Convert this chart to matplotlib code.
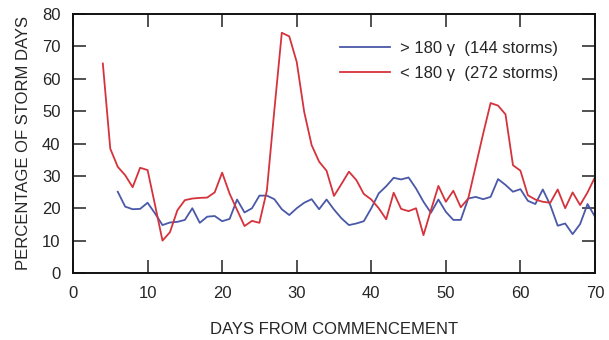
import matplotlib
matplotlib.use("Agg")
import matplotlib.pyplot as plt

plt.rcParams['font.family'] = ['Liberation Sans', 'DejaVu Sans']

# Percentage of storm days by days from commencement
days_strong = list(range(6, 71))
pct_strong = [25.1, 20.5, 19.7, 19.8, 21.7, 18.4, 14.8, 15.6, 15.8, 16.4,
              20.0, 15.5, 17.4, 17.6, 16.0, 16.7, 22.7, 18.7, 20.0, 23.9,
              23.9, 22.8, 19.7, 17.9, 20.0, 21.7, 22.8, 19.7, 22.7, 19.6,
              16.9, 14.8, 15.3, 16.0, 20.0, 24.6, 26.8, 29.4, 28.9, 29.5,
              26.1, 22.0, 18.6, 22.7, 18.9, 16.4, 16.4, 23.0, 23.5, 22.8,
              23.5, 29.0, 27.2, 25.1, 25.9, 22.3, 21.3, 25.8, 21.0, 14.6,
              15.3, 12.0, 15.1, 21.3, 17.4]

days_weak = list(range(4, 71))
pct_weak = [64.7, 38.4, 32.8, 30.2, 26.5, 32.5, 31.8, 21.0, 10.0, 12.6,
            19.4, 22.5, 23.0, 23.2, 23.3, 24.9, 31.0, 24.5, 19.5, 14.5,
            16.1, 15.5, 25.5, 50.3, 74.2, 73.1, 65.2, 49.8, 39.5, 34.4,
            31.6, 23.8, 27.5, 31.3, 28.7, 24.4, 22.7, 20.0, 16.6, 24.8,
            19.8, 19.1, 20.0, 11.7, 19.4, 26.9, 22.0, 25.4, 20.3, 23.0,
            33.0, 43.0, 52.5, 51.7, 49.0, 33.3, 31.6, 24.0, 22.7, 22.0,
            21.7, 25.8, 20.0, 24.9, 21.0, 24.9, 29.6]

labels = [u'> 180 \u03b3  (144 storms)', u'< 180 \u03b3  (272 storms)']
x_ticks = [0, 10, 20, 30, 40, 50, 60, 70]
y_ticks = [0, 10, 20, 30, 40, 50, 60, 70, 80]

blue = '#4a58a8'
red = '#d5333c'
text_color = '#262626'
fs = 12

fig = plt.figure(figsize=(6.09, 3.40), dpi=100)
ax = fig.add_axes([73 / 609, 1 - 273 / 340, 522 / 609, 259 / 340])

ax.plot(days_strong, pct_strong, color=blue, lw=1.3, label=labels[0])
ax.plot(days_weak, pct_weak, color=red, lw=1.3, label=labels[1])

ax.set_xlim(0, 70)
ax.set_ylim(0, 80)
ax.set_xticks(x_ticks)
ax.set_yticks(y_ticks)

for side in ['left', 'right', 'top', 'bottom']:
    ax.spines[side].set_linewidth(1.4)
    ax.spines[side].set_color('#111111')

ax.tick_params(axis='both', direction='in', length=9.5, width=1.1,
               top=True, right=True, labelsize=fs, labelcolor=text_color,
               color='#222222')
ax.tick_params(axis='x', pad=9.5)
ax.tick_params(axis='y', pad=9)

ax.set_xlabel('DAYS FROM COMMENCEMENT', fontsize=fs, color=text_color,
              labelpad=15)
ax.set_ylabel('PERCENTAGE OF STORM DAYS', fontsize=fs, color=text_color,
              labelpad=8)

leg = ax.legend(loc='upper left', bbox_to_anchor=(0.511, 0.895),
                frameon=False, fontsize=fs, handlelength=3.0,
                handletextpad=0.6, labelspacing=0.6, borderpad=0,
                borderaxespad=0)
for t in leg.get_texts():
    t.set_color(text_color)

fig.savefig('out.png', dpi=100)
